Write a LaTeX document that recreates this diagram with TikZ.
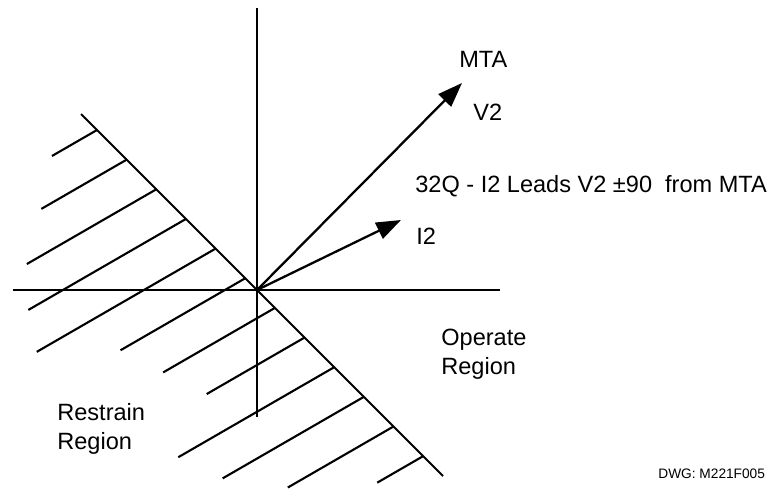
\documentclass[tikz,border=0pt]{standalone}
\usepackage{fontspec}
\setmainfont{Liberation Sans}
\usetikzlibrary{arrows.meta}

\tikzset{
	axis/.style={line width=1.6pt},
	hatch/.style={line width=1.2pt},
	phasor/.style={line width=1.3pt, -{Triangle[length=14pt,width=10pt]}},
	lbl/.style={inner sep=0pt, font=\fontsize{13.4}{16.5}\selectfont},
}

\begin{document}
\begin{tikzpicture}[scale=1]
	\useasboundingbox (-5.14,-4.06) rectangle (10.3,5.8);
	
	% axes
	\draw[axis] (0,5.64) -- (0,-2.54);
	\draw[axis] (-4.88,0) -- (4.86,0);
	
	% boundary line
	\draw[hatch] (-3.52,3.52) -- (3.72,-3.72);
	
	% hatching on the restrain side
	\foreach \k/\l in {0/1.04, 1/1.97, 2/2.99, 3/3.64, 4/4.13, 5/2.88,
	                   6/2.58, 7/2.26, 8/3.6, 9/3.26, 10/2.44, 11/1.06}
		\draw[hatch] ({-3.2+0.593*\k},{3.2-0.593*\k}) -- ++(210:\l);
	
	% phasors
	\coordinate (O) at (0,0);
	\coordinate (v2tip) at (4.1,4.14);
	\coordinate (i2tip) at (2.88,1.4);
	\draw[phasor] (O) -- (v2tip);
	\draw[phasor] (O) -- (i2tip);
	
	% labels
	\node[lbl, anchor=base west] (mta) at (4.04,4.46) {MTA};
	\node[lbl, anchor=base west] (v2) at (4.32,3.4) {V2};
	\node[lbl, anchor=base west] (rule) at (3.16,1.95) {32Q - I2 Leads V2 ±90~~from MTA};
	\node[lbl, anchor=base west] (i2) at (3.18,0.92) {I2};
	\node[lbl, anchor=north west, align=left] (operate) at (3.68,-0.78) {Operate\\Region};
	\node[lbl, anchor=north west, align=left] (restrain) at (-4.0,-2.26) {Restrain\\Region};
	\node[inner sep=0pt, anchor=base west, font=\fontsize{7.8}{9}\selectfont] (dwg) at (8.02,-3.76) {DWG: M221F005};
	
\end{tikzpicture}
\end{document}
